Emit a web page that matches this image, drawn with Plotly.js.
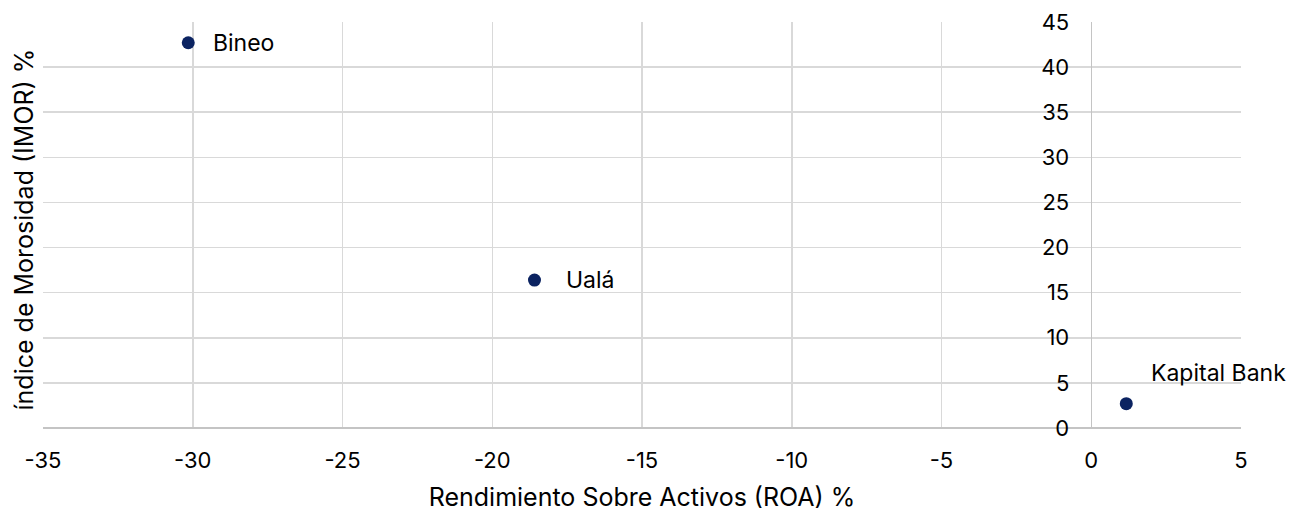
<!DOCTYPE html>
<html>
<head>
<meta charset="utf-8">
<script src="https://cdn.plot.ly/plotly-3.0.1.min.js"></script>
<style>html,body{margin:0;padding:0;background:#fff;}#chart{width:1291px;height:512px;}</style>
</head>
<body>
<div id="chart"></div>
<script>
// Data
const banks = ["Bineo", "Ualá", "Kapital Bank"];
const roa = [-30.15, -18.59, 1.17];
const imor = [42.7, 16.4, 2.7];
const xTicks = [-35, -30, -25, -20, -15, -10, -5, 0, 5];
const yTicks = [0, 5, 10, 15, 20, 25, 30, 35, 40, 45];

// Label styling (offsets in px)
const labelStyle = {
  "Bineo": {xshift: 23, yshift: 0},
  "Ualá": {xshift: 30, yshift: 0},
  "Kapital Bank": {xshift: 23, yshift: 31}
};

const FONT = "Inter, 'Liberation Sans', Arial, sans-serif";
const fs = 22;
const fsLabel = 23;
const fsTitle = 25;

const trace = {
  type: "scatter",
  mode: "markers",
  x: roa,
  y: imor,
  marker: {color: "#0b2361", size: 13},
  hoverinfo: "skip",
  showlegend: false
};

const annotations = banks.map((b, i) => ({
  x: roa[i], y: imor[i], xref: "x", yref: "y",
  text: b, showarrow: false, xanchor: "left", yanchor: "middle",
  xshift: labelStyle[b].xshift, yshift: labelStyle[b].yshift,
  font: {family: FONT, size: fsLabel, color: "#000"}
}));
annotations.push({
  xref: "paper", yref: "paper", x: -0.0155, y: 0.49, xanchor: "center", yanchor: "middle",
  text: "índice de Morosidad (IMOR) %", textangle: -90, showarrow: false,
  font: {family: FONT, size: fsTitle, color: "#000"}
});

const layout = {
  width: 1291, height: 512,
  margin: {l: 43, r: 50, t: 22, b: 83.5},
  paper_bgcolor: "#fff", plot_bgcolor: "#fff",
  font: {family: FONT, size: fs, color: "#000"},
  xaxis: {
    range: [-35, 5], tickvals: xTicks, ticktext: xTicks.map(String),
    showgrid: true, gridcolor: "#d9d9d9", gridwidth: 1.5,
    zeroline: true, zerolinecolor: "#c4c4c4", zerolinewidth: 1.5,
    showline: false, ticks: "", ticklabelstandoff: 17,
    tickfont: {family: FONT, size: fs, color: "#000"},
    title: {text: "Rendimiento Sobre Activos (ROA) %", font: {family: FONT, size: fsTitle, color: "#000"}, standoff: 16},
    fixedrange: true
  },
  yaxis: {
    range: [0, 45], tickvals: yTicks, ticktext: yTicks.map(String),
    anchor: "free", position: 0.875,
    showgrid: true, gridcolor: "#d9d9d9", gridwidth: 1.5,
    zeroline: true, zerolinecolor: "#c4c4c4", zerolinewidth: 1.5,
    showline: false, ticks: "", ticklabelstandoff: 22,
    tickfont: {family: FONT, size: fs, color: "#000"},
    fixedrange: true
  },
  annotations: annotations
};

Plotly.newPlot("chart", [trace], layout, {displayModeBar: false, staticPlot: true});
</script>
</body>
</html>
